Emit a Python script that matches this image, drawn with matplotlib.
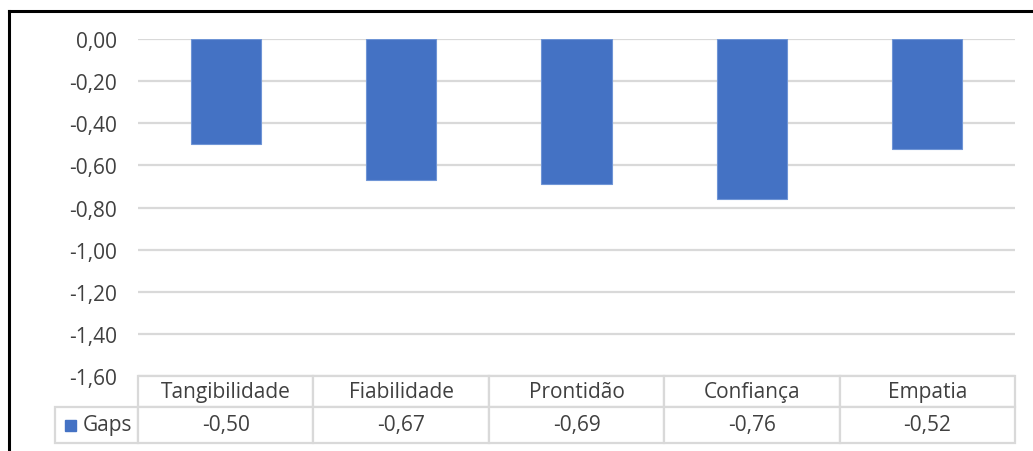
import matplotlib
matplotlib.use("Agg")
import matplotlib.pyplot as plt
from matplotlib.lines import Line2D

categories = ["Tangibilidade", "Fiabilidade", "Prontidão", "Confiança", "Empatia"]
gaps = [-0.50, -0.67, -0.69, -0.76, -0.52]
series_name = "Gaps"
yticks = [0.0, -0.2, -0.4, -0.6, -0.8, -1.0, -1.2, -1.4, -1.6]

plt.rcParams['font.family'] = ['Open Sans', 'DejaVu Sans']
TXT = '#404040'
BAR = '#4472C4'
GRID = '#D9D9D9'
FS = 15

W, H = 1033, 452
fig = plt.figure(figsize=(W / 100, H / 100), dpi=100)
L, R, T, B = 138, 1015, 40, 377
ax = fig.add_axes([L / W, 1 - B / H, (R - L) / W, (B - T) / H])

x = list(range(len(categories)))
ax.bar(x, gaps, width=0.4, color=BAR, edgecolor='#6F95D6', linewidth=0.8, zorder=3)
ax.set_xlim(-0.5, len(categories) - 0.5)
ax.set_ylim(-1.6, 0.0)
ax.set_yticks(yticks)
ax.set_yticklabels([f"{v:.2f}".replace('.', ',') for v in yticks], fontsize=FS, color=TXT)
ax.tick_params(axis='y', length=0, pad=15)
ax.set_xticks([])
for s in ax.spines.values():
    s.set_visible(False)
ax.grid(axis='y', color=GRID, linewidth=1.6, zorder=0)
ax.set_axisbelow(True)

# data table
left_px = 55
bottom_px = 444
col_w_first = (L - left_px)
col_w = (R - L) / len(categories)
x0 = (left_px - L) / (R - L)
wtot = (R - left_px) / (R - L)
y0 = -(bottom_px - B) / (B - T)
htot = (bottom_px - B) / (B - T)

cell_text = [[""] + categories, [""] + [f"{v:.2f}".replace('.', ',') for v in gaps]]
tbl = ax.table(cellText=cell_text, cellLoc='center',
               colWidths=[col_w_first] + [col_w] * len(categories),
               bbox=[x0, y0, wtot, htot])
tbl.auto_set_font_size(False)
tbl.set_fontsize(FS)
row_h = {0: 31, 1: 36}
for (r, c), cell in tbl.get_celld().items():
    cell.set_height(row_h[r])
    cell.set_edgecolor(GRID)
    cell.set_linewidth(1.6)
    cell.get_text().set_color(TXT)
    cell.get_text().set_fontsize(FS)
    if r == 0 and c == 0:
        cell.visible_edges = ''

# row label with legend key
fig.text(83 / W, 1 - 426 / H, series_name, fontsize=FS, color=TXT, ha='left', va='center')
fig.patches.append(plt.Rectangle((65 / W, 1 - 432 / H), 11 / W, 11 / H,
                                 transform=fig.transFigure, color=BAR))

# outer frame (top and left black border)
fig.add_artist(Line2D([9 / W, 1], [1 - 12 / H, 1 - 12 / H], color='black', linewidth=2.2,
                      transform=fig.transFigure))
fig.add_artist(Line2D([9 / W, 9 / W], [0, 1 - 12 / H], color='black', linewidth=2.2,
                      transform=fig.transFigure))

fig.savefig("out.png", dpi=100)
